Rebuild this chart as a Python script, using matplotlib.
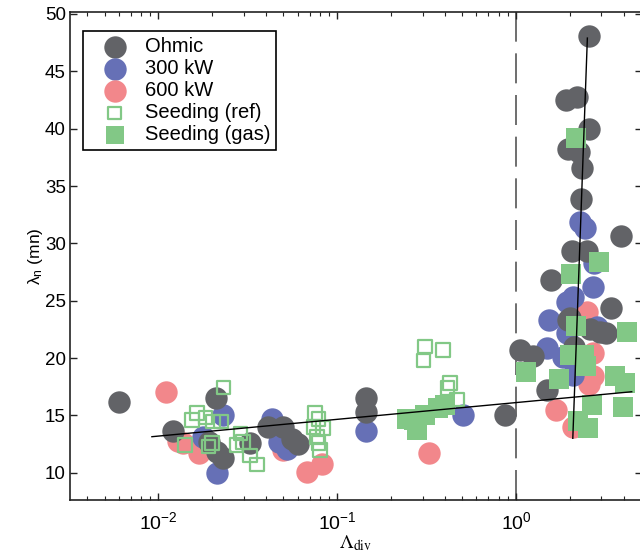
import matplotlib
matplotlib.use("Agg")
import matplotlib.pyplot as plt

plt.rcParams["font.family"] = ["Liberation Sans", "DejaVu Sans"]
plt.rcParams["mathtext.fontset"] = "custom"
plt.rcParams["mathtext.rm"] = "Liberation Sans"
plt.rcParams["mathtext.it"] = "Liberation Sans:italic"
plt.rcParams["mathtext.sf"] = "Liberation Sans"

# Ohmic
ohm_x = [0.0060, 0.0121, 0.0210, 0.0193, 0.0212, 0.0231, 0.0326, 0.0412, 0.050,
         0.0557, 0.060, 0.145, 0.145, 0.868, 1.05, 1.24, 1.48, 2.54, 1.90, 2.20,
         2.57, 1.96, 2.25, 2.33, 2.31, 3.85, 2.05, 2.49, 1.56, 3.40, 1.96, 2.95,
         3.20, 2.00, 2.60, 2.10]
ohm_y = [16.2, 13.6, 16.5, 12.7, 11.8, 11.3, 12.6, 14.0, 14.0,
         12.9, 12.5, 16.5, 15.3, 15.0, 20.7, 20.2, 17.2, 48.1, 42.5, 42.8,
         40.0, 38.2, 38.0, 36.6, 33.9, 30.6, 29.3, 29.3, 26.8, 24.4, 23.3, 22.3,
         22.2, 23.5, 22.5, 21.0]

# 300 kW
p300_x = [0.0231, 0.0212, 0.0177, 0.043, 0.047, 0.0523, 0.145, 0.507, 1.52, 1.48,
          1.84, 2.28, 2.43, 2.74, 2.68, 2.07, 1.92, 2.83, 1.92, 2.09]
p300_y = [15.0, 9.95, 13.1, 14.7, 12.7, 12.1, 13.6, 15.0, 23.3, 20.9,
          20.1, 31.9, 31.3, 28.3, 26.2, 25.3, 24.9, 22.7, 22.2, 18.5]

# 600 kW
p600_x = [0.0111, 0.0138, 0.0128, 0.0168, 0.050, 0.0676, 0.082, 0.327, 1.67, 2.09,
          2.57, 2.70, 2.50, 2.30, 2.70]
p600_y = [17.0, 12.6, 12.8, 11.7, 12.0, 10.1, 10.8, 11.7, 15.5, 14.0,
          17.7, 20.4, 24.0, 19.0, 18.4]

# Seeding (ref)
sref_x = [0.0231, 0.0164, 0.0183, 0.0154, 0.0202, 0.0224, 0.0141, 0.0191, 0.0199,
          0.0287, 0.0274, 0.0298, 0.0326, 0.0355, 0.0752, 0.0785, 0.0737, 0.077,
          0.0785, 0.080, 0.0834, 0.31, 0.389, 0.303, 0.428, 0.413, 0.466]
sref_y = [17.45, 15.2, 14.8, 14.6, 14.45, 14.45, 12.4, 12.3, 12.6,
          13.4, 12.4, 12.7, 11.5, 10.7, 15.2, 14.7, 14.0, 13.1,
          12.6, 12.0, 13.9, 21.0, 20.7, 19.8, 17.8, 17.4, 16.4]

# Seeding (gas)
sgas_x = [0.245, 0.267, 0.279, 0.31, 0.368, 0.40, 1.14, 1.74, 2.16, 2.91, 2.03,
          2.16, 4.16, 2.00, 2.40, 2.46, 3.58, 4.07, 3.98, 2.67, 2.23, 2.52]
sgas_y = [14.7, 14.6, 13.7, 15.0, 15.6, 15.9, 18.8, 18.2, 39.2, 28.4, 27.3,
          22.8, 22.3, 20.3, 20.3, 19.3, 18.4, 17.8, 15.75, 15.9, 14.5, 13.9]

# fit lines (end points)
fit_low_x = [0.0092, 4.43]
fit_low_y = [13.14, 17.06]
fit_high_x = [2.075, 2.503]
fit_high_y = [13.0, 47.9]

c_ohm = "#626367"
c_300 = "#6670b6"
c_600 = "#f2878b"
c_seed = "#82c886"

fig = plt.figure(figsize=(6.4, 5.52), dpi=100)
ax = fig.add_axes([0.1094, 0.0942, 0.8938, 0.884])

s_circ = 260
ax.scatter(p600_x, p600_y, s=s_circ, c=c_600, linewidths=0, zorder=2)
ax.scatter(p300_x, p300_y, s=s_circ, c=c_300, linewidths=0, zorder=3)
ax.scatter(ohm_x, ohm_y, s=s_circ, c=c_ohm, linewidths=0, zorder=4)
ax.scatter(sref_x, sref_y, s=95, marker="s", facecolors="none",
           edgecolors=c_seed, linewidths=1.6, zorder=5)
ax.scatter(sgas_x, sgas_y, s=190, marker="s", c=c_seed, linewidths=0, zorder=5)

ax.plot(fit_low_x, fit_low_y, color="black", lw=1.0, zorder=6)
ax.plot(fit_high_x, fit_high_y, color="black", lw=1.0, zorder=6)
ax.axvline(1.0, color="#555555", lw=1.2, dashes=(18, 7), zorder=1)

# legend proxies
h = [
    ax.scatter([], [], s=s_circ, c=c_ohm, linewidths=0),
    ax.scatter([], [], s=s_circ, c=c_300, linewidths=0),
    ax.scatter([], [], s=s_circ, c=c_600, linewidths=0),
    ax.scatter([], [], s=80, marker="s", facecolors="none", edgecolors=c_seed, linewidths=1.6),
    ax.scatter([], [], s=170, marker="s", c=c_seed, linewidths=0),
]
labels = ["Ohmic", "300 kW", "600 kW", "Seeding (ref)", "Seeding (gas)"]
leg = ax.legend(h, labels, loc="upper left", bbox_to_anchor=(0.0233, 0.961),
                borderaxespad=0, fontsize=14.5, frameon=True, fancybox=False,
                edgecolor="black", framealpha=1, labelspacing=0.15,
                handletextpad=0.25, borderpad=0.3, handlelength=2.5)
leg.get_frame().set_linewidth(1.2)

ax.set_xscale("log")
ax.set_xlim(0.003206, 5.06)
ax.set_ylim(7.62, 50.17)
ax.set_yticks([10, 15, 20, 25, 30, 35, 40, 45, 50])
ax.tick_params(which="both", direction="in", top=True, right=True,
               colors="#222222", labelcolor="black")
ax.tick_params(which="major", length=5, width=1, labelsize=13.5)
ax.tick_params(which="minor", length=3, width=0.8)
ax.tick_params(axis="x", which="major", pad=8, labelsize=14)
ax.tick_params(axis="y", which="major", pad=3)
for sp in ax.spines.values():
    sp.set_linewidth(1.2)
    sp.set_color("#222222")

ax.set_ylabel("λ$_\\mathregular{n}$ (mn)", fontsize=12.5, labelpad=0)
ax.set_xlabel(r"$\Lambda_{\mathrm{div}}$", fontsize=14, labelpad=0,
              math_fontfamily="stix")

fig.savefig("out.png", dpi=100)
